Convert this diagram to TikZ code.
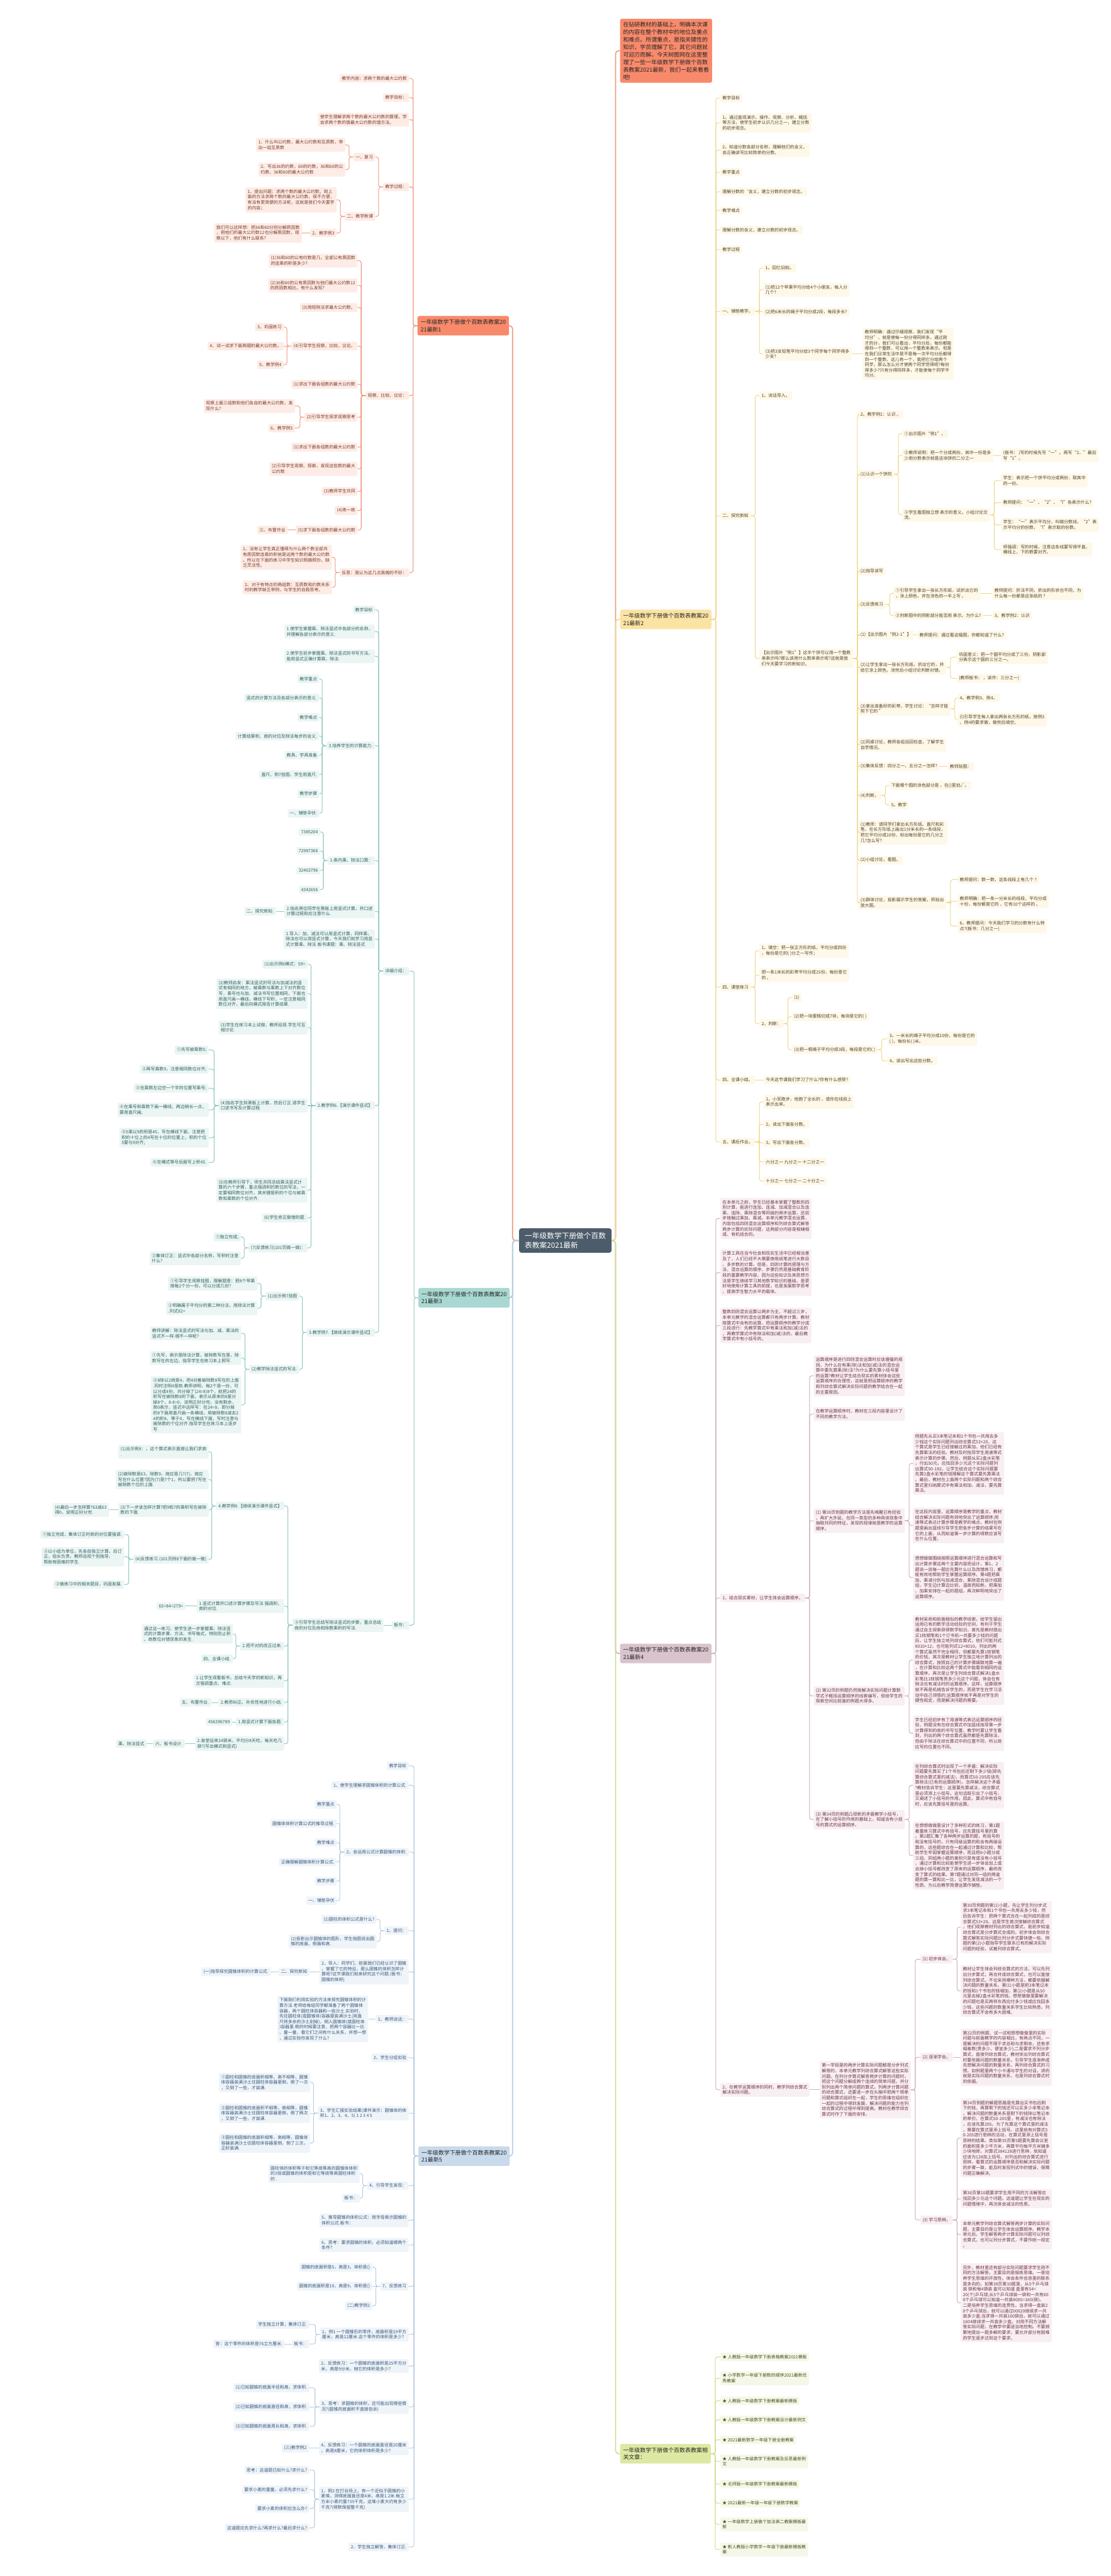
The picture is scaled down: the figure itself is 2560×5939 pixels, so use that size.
\documentclass[tikz,border=0pt]{standalone}
\usepackage{fontspec}
\setmainfont{Noto Sans CJK SC}
\definecolor{oline}{HTML}{EE9B82}
\definecolor{ofill}{HTML}{FDECE6}
\definecolor{otext}{HTML}{7B3A28}
\definecolor{ohd}{HTML}{F88A6B}
\definecolor{tline}{HTML}{93C9C3}
\definecolor{tfill}{HTML}{EBF5F4}
\definecolor{ttext}{HTML}{2E625D}
\definecolor{thd}{HTML}{A9D8D2}
\definecolor{bline}{HTML}{B9CDE0}
\definecolor{bfill}{HTML}{EFF4F9}
\definecolor{btext}{HTML}{35577A}
\definecolor{bhd}{HTML}{C8DAEC}
\definecolor{yline}{HTML}{EFD88D}
\definecolor{yfill}{HTML}{FEF8E9}
\definecolor{ytext}{HTML}{4F4326}
\definecolor{yhd}{HTML}{FBE3A3}
\definecolor{pline}{HTML}{D2AFBC}
\definecolor{pfill}{HTML}{F8EFF2}
\definecolor{ptext}{HTML}{6D3548}
\definecolor{phd}{HTML}{D9C4CD}
\definecolor{gline}{HTML}{CFE090}
\definecolor{gfill}{HTML}{F5F8E8}
\definecolor{gtext}{HTML}{44501F}
\definecolor{ghd}{HTML}{DDE8A2}
\definecolor{hubfill}{HTML}{4C5C6A}

\begin{document}
\begin{tikzpicture}[x=1pt,y=-1pt,
  leaf/.style={rounded corners=3pt,inner xsep=5pt,inner ysep=5pt,align=left,font=\fontsize{10}{12.5}\selectfont},
  oleaf/.style={leaf,fill=ofill,text=otext},
  tleaf/.style={leaf,fill=tfill,text=ttext},
  bleaf/.style={leaf,fill=bfill,text=btext},
  yleaf/.style={leaf,fill=yfill,text=ytext},
  pleaf/.style={leaf,fill=pfill,text=ptext},
  gleaf/.style={leaf,fill=gfill,text=gtext},
  head/.style={rounded corners=4pt,inner xsep=7pt,inner ysep=8pt,align=left,text=black!85,font=\fontsize{13}{17}\selectfont},
  hub/.style={rounded corners=5pt,fill=hubfill,text=white,inner xsep=13pt,inner ysep=9pt,align=left,font=\fontsize{17}{22}\selectfont},
  lside/.style={anchor=east},
  rside/.style={anchor=west},
  olink/.style={draw=oline,line width=1.5pt,rounded corners=5pt},
  tlink/.style={draw=tline,line width=1.5pt,rounded corners=5pt},
  blink/.style={draw=bline,line width=1.5pt,rounded corners=5pt},
  ylink/.style={draw=yline,line width=1.5pt,rounded corners=5pt},
  plink/.style={draw=pline,line width=1.5pt,rounded corners=5pt},
  glink/.style={draw=gline,line width=1.5pt,rounded corners=5pt},
  trunk/.style={line width=2.4pt,rounded corners=7pt}]
\fill[white] (0,0) rectangle (2560,5939);
\useasboundingbox (0,0) rectangle (2560,5939);

% hub
\node[hub] (C) at (1303,2860) {一年级数学下册做个百数\\表教案2021最新};

% ---------- left 1
\node[head,fill=ohd,lside] (oT) at (1173,751) {一年级数学下册做个百数表教案20\\21最新1};
\node[oleaf,lside] (o1) at (943,181) {教学内容：求两个数的最大公约数};
\node[oleaf,lside] (o2) at (943,225) {教学目标：};
\node[oleaf,lside] (o3) at (943,276) {使学生理解求两个数的最大公约数的算理，学\\会求两个数的饿最大公约数的饿方法。};
\node[oleaf,lside] (o4) at (943,431) {教学过程：};
\node[oleaf,lside] (o5) at (943,912) {观察、比较、议论：};
\node[oleaf,lside] (o6) at (943,1320) {反思：我认为这几点我做的不好：};
\node[oleaf,lside] (o4a) at (865,362) {一、复习};
\node[oleaf,lside] (o4b) at (865,499) {二、教学新课};
\node[oleaf,lside] (o4a1) at (796,334) {1、什么叫公约数，最大公约数和互质数，举\\出一组互质数};
\node[oleaf,lside] (o4a2) at (796,391) {2、写出36的约数，60的约数，36和60的公\\约数，36和60的最大公约数};
\node[oleaf,lside] (o4b1) at (776,461) {1、提出问题：求两个数的最大公约数。用上\\面的方法求两个数的最大公约数，很不方便，\\有没有更简便的方法呢，这就是我们今天要学\\的内容；};
\node[oleaf,lside] (o4b2) at (776,537) {2、教学例3};
\node[oleaf,lside] (o4b2a) at (696,537) {我们可以这样想：把36和60分别分解质因数\\，把他们的最大公约数12也分解质因数，观\\察以下，他们有什么联系?};
\node[oleaf,lside] (o5a) at (824,601) {(1)36和60的公有约数是几，全部公有质因数\\的连乘的积是多少?};
\node[oleaf,lside] (o5b) at (824,658) {(2)36和60的公有质因数与他们最大公约数12\\的质因数相比，有什么发现?};
\node[oleaf,lside] (o5c) at (824,709) {(3)用短除法求最大公约数。};
\node[oleaf,lside] (o5d) at (824,798) {(4)引导学生观察，比较，议论。};
\node[oleaf,lside] (o5e) at (824,886) {(1)求出下面各组数的最大公约数};
\node[oleaf,lside] (o5f) at (824,962) {(2)引导学生探求观察思考};
\node[oleaf,lside] (o5g) at (824,1031) {(1)求出下面各组数的最大公约数};
\node[oleaf,lside] (o5h) at (824,1081) {(2)引导学生观察、探索、发现这些数的最大\\公约数};
\node[oleaf,lside] (o5i) at (824,1133) {(3)教师学生共同};
\node[oleaf,lside] (o5j) at (824,1177) {(4)练一练};
\node[oleaf,lside] (o5k) at (824,1222) {(5)求下面各组数的最大公约数};
\node[oleaf,lside] (o5d1) at (654,754) {3、巩固练习};
\node[oleaf,lside] (o5d2) at (654,798) {4、试一试求下面两题的最大公约数。};
\node[oleaf,lside] (o5d3) at (654,841) {5、教学例4};
\node[oleaf,lside] (o5f1) at (680,936) {观察上面三组数和他们各自的最大公约数，发\\现什么?};
\node[oleaf,lside] (o5f2) at (680,987) {6、教学例5};
\node[oleaf,lside] (o5k1) at (663,1222) {三、布置作业};
\node[oleaf,lside] (o6a) at (765,1285) {1、没有让学生真正懂得为什么两个数全部共\\有质因数连乘的积就是这两个数的最大公约数\\。所以在下面的练习中学生知识照搬照抄。缺\\乏灵活性。};
\node[oleaf,lside] (o6b) at (765,1354) {2、对于有特点的两组数：互质数和约数关系\\时的教学缺乏举例，与学生的自我思考。};

\foreach \n in {o1,o2,o3,o4,o5,o6} \draw[olink] (oT.west) -- ++(-10,0) |- (\n.east);
\foreach \n in {o4a,o4b} \draw[olink] (o4.west) -- ++(-10,0) |- (\n.east);
\foreach \n in {o4a1,o4a2} \draw[olink] (o4a.west) -- ++(-10,0) |- (\n.east);
\foreach \n in {o4b1,o4b2} \draw[olink] (o4b.west) -- ++(-10,0) |- (\n.east);
\draw[olink] (o4b2.west) -- (o4b2a.east);
\foreach \n in {o5a,o5b,o5c,o5d,o5e,o5f,o5g,o5h,o5i,o5j,o5k} \draw[olink] (o5.west) -- ++(-10,0) |- (\n.east);
\foreach \n in {o5d1,o5d3} \draw[olink] (o5d.west) -- ++(-10,0) |- (\n.east);
\draw[olink] (o5d.west) -- (o5d2.east);
\foreach \n in {o5f1,o5f2} \draw[olink] (o5f.west) -- ++(-10,0) |- (\n.east);
\draw[olink] (o5k.west) -- (o5k1.east);
\foreach \n in {o6a,o6b} \draw[olink] (o6.west) -- ++(-10,0) |- (\n.east);

% ---------- left 3
\node[head,fill=thd,lside] (tT) at (1175,2992) {一年级数学下册做个百数表教案20\\21最新3};
\node[tleaf,lside] (t1) at (943,2239) {详细介绍：};
\node[tleaf,lside] (t2) at (943,3747) {板书：};
\node[tleaf,lside] (t1a) at (864,1406) {教学目标};
\node[tleaf,lside] (t1b) at (864,1456) {1.使学生掌握乘、除法竖式中各部分的名称，\\并理解各部分表示的意义.};
\node[tleaf,lside] (t1c) at (864,1513) {2.使学生初步掌握乘、除法竖式的书写方法，\\能用竖式正确计算乘、除法.};
\node[tleaf,lside] (t1d) at (864,1719) {3.培养学生的计算能力.};
\node[tleaf,lside] (t1e) at (864,1984) {1.表内乘、除法口算：};
\node[tleaf,lside] (t1f) at (864,2101) {2.指名两位同学在黑板上用竖式计算，并口述\\计算过程和应注意什么.};
\node[tleaf,lside] (t1g) at (864,2165) {1.导入：加、减法可以用竖式计算，同样乘、\\除法也可以用竖式计算，今天我们就学习用竖\\式计算乘、除法.板书课题：乘、除法竖式};
\node[tleaf,lside] (t1h) at (864,2549) {2.教学例6.【演示课件竖式】};
\node[tleaf,lside] (t1i) at (864,3072) {3.教学例7.【继续演示课件竖式】};
\node[tleaf,lside] (t1d1) at (736,1565) {教学重点};
\node[tleaf,lside] (t1d2) at (736,1609) {竖式的计算方法及各部分表示的意义.};
\node[tleaf,lside] (t1d3) at (736,1654) {教学难点};
\node[tleaf,lside] (t1d4) at (736,1697) {计算结果积、商的对位及除法每步的含义.};
\node[tleaf,lside] (t1d5) at (736,1741) {教具、学具准备};
\node[tleaf,lside] (t1d6) at (736,1786) {直尺、例7挂图、学生用直尺.};
\node[tleaf,lside] (t1d7) at (736,1830) {教学步骤};
\node[tleaf,lside] (t1d8) at (736,1875) {一、铺垫孕伏.};
\node[tleaf,lside] (t1e1) at (738,1918) {7385204};
\node[tleaf,lside] (t1e2) at (738,1962) {72987366};
\node[tleaf,lside] (t1e3) at (738,2007) {32463796};
\node[tleaf,lside] (t1e4) at (738,2051) {4342656};
\node[tleaf,lside] (t1f1) at (636,2101) {二、探究新知.};
\node[tleaf,lside] (t1h1) at (709,2223) {(1)出示例6横式：59=};
\node[tleaf,lside] (t1h2) at (709,2291) {(2)教师启发：乘法竖式的写法与加减法的竖\\式有相同的地方，被乘数与乘数上下对齐数位\\写，乘号也与加、减法书写位置相同，下面也\\用直尺画一横线，横线下写积，一定注意相同\\数位对齐，最后向横式报告计算结果.};
\node[tleaf,lside] (t1h3) at (709,2369) {(3)学生在练习本上试做，教师巡视.学生可互\\相讨论.};
\node[tleaf,lside] (t1h4) at (709,2549) {(4)指名学生到黑板上计算，然后订正.请学生\\口述书写及计算过程.};
\node[tleaf,lside] (t1h5) at (709,2744) {(5)在教师引导下，师生共同总结乘法竖式计\\算的六个步骤，重点强调积的数位的写法，一\\定要相同数位对齐，其关键是积的个位与被乘\\数和乘数的个位对齐.};
\node[tleaf,lside] (t1h6) at (709,2808) {(6)学生修正做错的题.};
\node[tleaf,lside] (t1h7) at (709,2877) {(7)反馈练习(101页做一做)：};
\node[tleaf,lside] (t1h4a) at (481,2421) {①先写被乘数5;};
\node[tleaf,lside] (t1h4b) at (481,2465) {②再写乘数9，注意相同数位对齐;};
\node[tleaf,lside] (t1h4c) at (481,2509) {③在乘数左边空一个字的位置写乘号;};
\node[tleaf,lside] (t1h4d) at (481,2559) {④在乘号和乘数下画一横线，两边稍长一点，\\要用直尺画;};
\node[tleaf,lside] (t1h4e) at (481,2623) {⑤5乘以9的积是45，写在横线下面，注意把\\积的十位上的4写在十位的位置上，积的个位\\5要与9对齐;};
\node[tleaf,lside] (t1h4f) at (481,2680) {⑥在横式等号后面写上积45.};
\node[tleaf,lside] (t1h7a) at (555,2852) {①独立完成;};
\node[tleaf,lside] (t1h7b) at (555,2901) {②集体订正：竖式中各部分名称，写积时注意\\什么?};
\node[tleaf,lside] (t1i1) at (690,2988) {(1)出示例7挂图};
\node[tleaf,lside] (t1i2) at (690,3157) {(2)教学除法竖式的写法.};
\node[tleaf,lside] (t1i1a) at (593,2959) {①引导学生观察挂图，理解题意：把8个苹果\\按每2个分一份，可以分成几份?};
\node[tleaf,lside] (t1i1b) at (593,3016) {②明确属于平均分的第二种分法，用除法计算\\.列式82=};
\node[tleaf,lside] (t1i2a) at (556,3074) {教师讲解：除法竖式的写法与加、减、乘法的\\竖式不一样.哪不一样呢?};
\node[tleaf,lside] (t1i2b) at (556,3131) {①先写，表示是除法计算，被除数写在里，除\\数写在的左边，指导学生在练习本上照写.};
\node[tleaf,lside] (t1i2c) at (556,3239) {②8除以2商是4，把4对着被除数8写在的上面\\.同时注明4是商.教师讲明，每2个是一份，可\\以分成4份，共分掉了(24=8)8个，就把24的\\积写在被除数8的下面，表示从原来的8里分\\掉8个，8-8=0，说明正好分完，没有剩余，\\用0表示，竖式中这样写：在24=8，即分掉\\的8下面用直尺画一条横线，用被除数8减去2\\4的积8，等于0，写在横线下面，写时注意与\\被除数的个位对齐.指导学生在练习本上逐步\\写.};
\node[tleaf,lside] (t2a) at (884,3747) {③引导学生总结写除法竖式的步骤，重点总结\\商的对位及商和除数乘积的写法.};
\node[tleaf,lside] (t2a1) at (655,3472) {4.教学例8.【继续演示课件竖式】};
\node[tleaf,lside] (t2a2) at (655,3703) {1.竖式计算并口述计算步骤及写法.强调积、\\商的对位.};
\node[tleaf,lside] (t2a3) at (655,3795) {2.把不对的改正过来.};
\node[tleaf,lside] (t2a4) at (655,3875) {1.让学生观看板书，总结今天学的新知识，再\\次强调重点、难点.};
\node[tleaf,lside] (t2a5) at (655,3925) {2.教师纠正、补充性地进行小结.};
\node[tleaf,lside] (t2a6) at (655,3970) {1.用竖式计算下面各题.};
\node[tleaf,lside] (t2a7) at (655,4020) {2.食堂运来24袋米，平均分8天吃，每天吃几\\袋?(写出横式和竖式)};
\node[tleaf,lside] (t2a1a) at (481,3347) {(1)出示例8：，这个算式表示直接让我们求商\\.};
\node[tleaf,lside] (t2a1b) at (481,3411) {(2)被除数是63，除数9，商应是几?(7)，商应\\写在什么位置?因为(7)是7个1，所以要把7写在\\被除数个位的上面.};
\node[tleaf,lside] (t2a1c) at (481,3481) {(3)下一步该怎样计算?把9和7的乘积写在被除\\数的下面.};
\node[tleaf,lside] (t2a1d) at (481,3595) {(4)反馈练习.(101页例8下面的做一做)};
\node[tleaf,lside] (t2a1c1) at (251,3481) {(4)最后一步怎样算?63减63\\得0，说明正好分完.};
\node[tleaf,lside] (t2a1d1) at (286,3538) {①独立完成，集体订正时商的对位要强调.};
\node[tleaf,lside] (t2a1d2) at (286,3589) {②以小组为单位，先各自独立计算，后订\\正，组长负责，教师巡视个别指导，\\帮助有困难的学生.};
\node[tleaf,lside] (t2a1d3) at (286,3653) {③做练习中的相关题目，巩固发展.};
\node[tleaf,lside] (t2a2a) at (427,3703) {65=84=279=};
\node[tleaf,lside] (t2a3a) at (537,3767) {通过这一练习，使学生进一步掌握乘、除法竖\\式的计算步骤、方法、书写格式、特别防止积\\、商数位对错现象的发生.};
\node[tleaf,lside] (t2a3b) at (537,3824) {四、全课小结.};
\node[tleaf,lside] (t2a5a) at (487,3925) {五、布置作业.};
\node[tleaf,lside] (t2a6a) at (535,3970) {456396789};
\node[tleaf,lside] (t2a7a) at (426,4020) {六、板书设计.};
\node[tleaf,lside] (t2a7b) at (338,4020) {乘、除法竖式};

\foreach \n in {t1,t2} \draw[tlink] (tT.west) -- ++(-10,0) |- (\n.east);
\foreach \n in {t1a,t1b,t1c,t1d,t1e,t1f,t1g,t1h,t1i} \draw[tlink] (t1.west) -- ++(-10,0) |- (\n.east);
\foreach \n in {t1d1,t1d2,t1d3,t1d4,t1d5,t1d6,t1d7,t1d8} \draw[tlink] (t1d.west) -- ++(-10,0) |- (\n.east);
\foreach \n in {t1e1,t1e2,t1e3,t1e4} \draw[tlink] (t1e.west) -- ++(-10,0) |- (\n.east);
\draw[tlink] (t1f.west) -- (t1f1.east);
\foreach \n in {t1h1,t1h2,t1h3,t1h5,t1h6,t1h7} \draw[tlink] (t1h.west) -- ++(-10,0) |- (\n.east);
\draw[tlink] (t1h.west) -- (t1h4.east);
\foreach \n in {t1h4a,t1h4b,t1h4c,t1h4d,t1h4e,t1h4f} \draw[tlink] (t1h4.west) -- ++(-10,0) |- (\n.east);
\foreach \n in {t1h7a,t1h7b} \draw[tlink] (t1h7.west) -- ++(-10,0) |- (\n.east);
\foreach \n in {t1i1,t1i2} \draw[tlink] (t1i.west) -- ++(-10,0) |- (\n.east);
\foreach \n in {t1i1a,t1i1b} \draw[tlink] (t1i1.west) -- ++(-10,0) |- (\n.east);
\foreach \n in {t1i2a,t1i2b,t1i2c} \draw[tlink] (t1i2.west) -- ++(-10,0) |- (\n.east);
\draw[tlink] (t2.west) -- (t2a.east);
\foreach \n in {t2a1,t2a2,t2a3,t2a4,t2a5,t2a6,t2a7} \draw[tlink] (t2a.west) -- ++(-10,0) |- (\n.east);
\foreach \n in {t2a1a,t2a1b,t2a1c,t2a1d} \draw[tlink] (t2a1.west) -- ++(-10,0) |- (\n.east);
\draw[tlink] (t2a1c.west) -- (t2a1c1.east);
\foreach \n in {t2a1d1,t2a1d2,t2a1d3} \draw[tlink] (t2a1d.west) -- ++(-10,0) |- (\n.east);
\draw[tlink] (t2a2.west) -- (t2a2a.east);
\foreach \n in {t2a3a,t2a3b} \draw[tlink] (t2a3.west) -- ++(-10,0) |- (\n.east);
\draw[tlink] (t2a5.west) -- (t2a5a.east);
\draw[tlink] (t2a6.west) -- (t2a6a.east);
\draw[tlink] (t2a7.west) -- (t2a7a.east);
\draw[tlink] (t2a7a.west) -- (t2a7b.east);

% ---------- left 5
\node[head,fill=bhd,lside] (bT) at (1175,4971) {一年级数学下册做个百数表教案20\\21最新5};
\node[bleaf,lside] (b1) at (942,4071) {教学目标};
\node[bleaf,lside] (b2) at (942,4116) {1、使学生理解求圆锥体积的计算公式.};
\node[bleaf,lside] (b3) at (942,4270) {2、会运用公式计算圆锥的体积.};
\node[bleaf,lside] (b4) at (942,4451) {1、提问：};
\node[bleaf,lside] (b5) at (942,4546) {2、导入：同学们，前面我们已经认识了圆锥\\，掌握了它的特征，那么圆锥的体积怎样计\\算呢?这节课我们就来研究这个问题.(板书：\\圆锥的体积)};
\node[bleaf,lside] (b6) at (942,4655) {1、教师谈话：};
\node[bleaf,lside] (b7) at (942,4744) {2、学生分组实验};
\node[bleaf,lside] (b8) at (942,4872) {3、学生汇报实验结果(课件演示：圆锥体的体\\积1、2、3、4、5) 1 2 3 4 5};
\node[bleaf,lside] (b9) at (942,5039) {4、引导学生发现：};
\node[bleaf,lside] (b10) at (942,5119) {5、推导圆锥的体积公式：用字母表示圆锥的\\体积公式.板书：};
\node[bleaf,lside] (b11) at (942,5176) {6、思考：要求圆锥的体积，必须知道哪两个\\条件?};
\node[bleaf,lside] (b12) at (942,5271) {7、反馈练习};
\node[bleaf,lside] (b13) at (942,5382) {1、例1 一个圆锥形的零件，底面积是19平方\\厘米，高是12厘米.这个零件的体积是多少?};
\node[bleaf,lside] (b14) at (942,5455) {2、反馈练习：一个圆锥的底面积是25平方分\\米，高是9分米，她它的体积是多少?};
\node[bleaf,lside] (b15) at (942,5549) {3、思考：求圆锥的体积，还可能出现哪些情\\况?(圆锥的底面积不直接告诉)};
\node[bleaf,lside] (b16) at (942,5644) {4、反馈练习：一个圆锥的底面直径是20厘米\\，高是8厘米，它的体积体积是多少?};
\node[bleaf,lside] (b17) at (942,5762) {1、例2 在打谷场上，有一个近似于圆锥的小\\麦堆，测得底面直径是4米，高是1.2米.每立\\方米小麦约重735千克，这堆小麦大约有多少\\千克?(得数保留整千克)};
\node[bleaf,lside] (b18) at (942,5872) {2、学生独立解答，集体订正.};
\node[bleaf,lside] (b3a) at (776,4160) {教学重点};
\node[bleaf,lside] (b3b) at (776,4204) {圆锥体体积计算公式的推导过程.};
\node[bleaf,lside] (b3c) at (776,4248) {教学难点};
\node[bleaf,lside] (b3d) at (776,4293) {正确理解圆锥体积计算公式.};
\node[bleaf,lside] (b3e) at (776,4337) {教学步骤};
\node[bleaf,lside] (b3f) at (776,4382) {一、铺垫孕伏};
\node[bleaf,lside] (b4a) at (868,4425) {(1)圆柱的体积公式是什么?};
\node[bleaf,lside] (b4b) at (868,4476) {(2)投影出示圆锥体的图形，学生指图说出圆\\锥的底面、侧面和高.};
\node[bleaf,lside] (b5a) at (713,4546) {二、探究新知};
\node[bleaf,lside] (b5b) at (624,4546) {(一)指导探究圆锥体积的计算公式.};
\node[bleaf,lside] (b6a) at (849,4655) {下面我们利用实验的方法来探究圆锥体积的计\\算方法.老师给每组同学都准备了两个圆锥体\\容器，两个圆柱体容器和一些沙土.实验时，\\先往圆柱体(或圆锥体)容器里装满沙土(用直\\尺将多余的沙土刮掉)，倒入圆锥体(或圆柱体\\)容器里.倒的时候要注意，把两个容器比一比\\、量一量，看它们之间有什么关系，并想一想\\，通过实验你发现了什么?};
\node[bleaf,lside] (b8a) at (715,4801) {①圆柱和圆锥的底面积相等，高不相等，圆锥\\体容器装满沙土往圆柱体容器里倒，倒了一次\\，又倒了一些，才装满.};
\node[bleaf,lside] (b8b) at (715,4872) {②圆柱和圆锥的底面积不相等，高相等，圆锥\\体容器装满沙土往圆柱体容器里倒，倒了两次\\，又倒了一些，才装满.};
\node[bleaf,lside] (b8c) at (715,4941) {③圆柱和圆锥的底面积相等，高相等，圆锥体\\容器装满沙土往圆柱体容器里倒，倒了三次，\\正好装满.};
\node[bleaf,lside] (b9a) at (829,5011) {圆柱体的体积等于和它等底等高的圆锥体体积\\的3倍或圆锥的体积是和它等底等高圆柱体积\\的 .};
\node[bleaf,lside] (b9b) at (829,5068) {板书：};
\node[bleaf,lside] (b12a) at (858,5227) {圆锥的底面积是5，高是3，体积是()};
\node[bleaf,lside] (b12b) at (858,5271) {圆锥的底面积是10，高是9，体积是()};
\node[bleaf,lside] (b12c) at (858,5316) {(二)教学例1};
\node[bleaf,lside] (b13a) at (713,5359) {学生独立计算，集体订正.};
\node[bleaf,lside] (b13b) at (713,5404) {板书：};
\node[bleaf,lside] (b13c) at (656,5404) {答：这个零件的体积是76立方厘米.};
\node[bleaf,lside] (b15a) at (713,5505) {(1)已知圆锥的底面半径和高，求体积.};
\node[bleaf,lside] (b15b) at (713,5549) {(2)已知圆锥的底面直径和高，求体积.};
\node[bleaf,lside] (b15c) at (713,5594) {(3)已知圆锥的底面周长和高，求体积.};
\node[bleaf,lside] (b16a) at (712,5644) {(三)教学例2};
\node[bleaf,lside] (b17a) at (713,5695) {思考：这道题已知什么?求什么?};
\node[bleaf,lside] (b17b) at (713,5740) {要求小麦的重量，必须先求什么?};
\node[bleaf,lside] (b17c) at (713,5783) {要求小麦的体积应怎么办?};
\node[bleaf,lside] (b17d) at (713,5828) {这道题应先求什么?再求什么?最后求什么?};

\foreach \n in {b1,b2,b3,b4,b5,b6,b7,b8,b9,b10,b11,b12,b13,b14,b15,b16,b17,b18} \draw[blink] (bT.west) -- ++(-10,0) |- (\n.east);
\foreach \n in {b3a,b3b,b3c,b3d,b3e,b3f} \draw[blink] (b3.west) -- ++(-10,0) |- (\n.east);
\foreach \n in {b4a,b4b} \draw[blink] (b4.west) -- ++(-10,0) |- (\n.east);
\draw[blink] (b5.west) -- (b5a.east);
\draw[blink] (b5a.west) -- (b5b.east);
\draw[blink] (b6.west) -- (b6a.east);
\foreach \n in {b8a,b8c} \draw[blink] (b8.west) -- ++(-10,0) |- (\n.east);
\draw[blink] (b8.west) -- (b8b.east);
\foreach \n in {b9a,b9b} \draw[blink] (b9.west) -- ++(-10,0) |- (\n.east);
\foreach \n in {b12a,b12c} \draw[blink] (b12.west) -- ++(-10,0) |- (\n.east);
\draw[blink] (b12.west) -- (b12b.east);
\foreach \n in {b13a,b13b} \draw[blink] (b13.west) -- ++(-10,0) |- (\n.east);
\draw[blink] (b13b.west) -- (b13c.east);
\foreach \n in {b15a,b15c} \draw[blink] (b15.west) -- ++(-10,0) |- (\n.east);
\draw[blink] (b15.west) -- (b15b.east);
\draw[blink] (b16.west) -- (b16a.east);
\foreach \n in {b17a,b17b,b17c,b17d} \draw[blink] (b17.west) -- ++(-10,0) |- (\n.east);

% ---------- right top
\node[head,fill=ohd,rside,inner ysep=7pt,font=\fontsize{13}{17.4}\selectfont] (top) at (1429,117) {在钻研教材的基础上，明确本次课\\的内容在整个教材中的地位及重点\\和难点。所谓重点，是指关键性的\\知识，学员理解了它，其它问题就\\可迎刃而解。今天树图网在这里整\\理了一些一年级数学下册做个百数\\表教案2021最新，我们一起来看看\\吧!};

% ---------- right 2
\node[head,fill=yhd,rside] (yT) at (1429,1428) {一年级数学下册做个百数表教案20\\21最新2};
\node[yleaf,rside] (y1) at (1660,226) {教学目标};
\node[yleaf,rside] (y2) at (1660,283) {1。通过直观演示、操作、观察、分析、概括\\等方法，使学生初步认识几分之一，建立分数\\的初步观念。};
\node[yleaf,rside] (y3) at (1660,346) {2。知道分数各部分名称，理解他们的含义，\\会正确读写比较简单的分数。};
\node[yleaf,rside] (y4) at (1660,397) {教学重点};
\node[yleaf,rside] (y5) at (1660,442) {理解分数的`含义，建立分数的初步观念。};
\node[yleaf,rside] (y6) at (1660,485) {教学难点};
\node[yleaf,rside] (y7) at (1660,530) {理解分数的含义，建立分数的初步观念。};
\node[yleaf,rside] (y8) at (1660,575) {教学过程};
\node[yleaf,rside] (y9) at (1660,718) {一、铺垫教学。};
\node[yleaf,rside] (y10) at (1660,1189) {二、探究新知};
\node[yleaf,rside] (y11) at (1660,2276) {四、课堂练习};
\node[yleaf,rside] (y12) at (1660,2490) {四、全课小结。};
\node[yleaf,rside] (y13) at (1660,2633) {五、课后作业。};
\node[yleaf,rside] (y9a) at (1759,618) {1。回忆旧知。};
\node[yleaf,rside] (y9b) at (1759,668) {(1)把12个苹果平均分给4个小朋友，每人分\\几个?};
\node[yleaf,rside] (y9c) at (1759,719) {(2)把6米长的绳子平均分成2段，每段多长?};
\node[yleaf,rside] (y9d) at (1759,816) {(3)把3支铅笔平均分给3个同学每个同学得多\\少支?};
\node[yleaf,rside] (y9d1) at (1988,816) {教师明确：通过仔细观察，我们发现“平\\均分”，就是使每一份分得同样多。通过刚\\才的分，我们可以看出，平均分后，每份都能\\得到一个整数，可以用一个整数来表示。但是\\在我们日常生活中是不是每一次平均分后都得\\到一个整数，这儿有一个，我把它分给两个\\同学，那么怎么分才使两个同学觉得呢?每份\\得多少?只有分得同样多，才能使每个同学平\\均分。};
\node[yleaf,rside] (y10a) at (1750,912) {1。谈话导入。};
\node[yleaf,rside] (y10b) at (1750,1518) {【出示图片“例1”】这半个饼可以用一个整数\\来表示吗?那么该用什么数来表示呢?这就是我\\们今天要学习的新知识。};
\node[yleaf,rside] (y10b1) at (1978,956) {2。教学例1：认识 。};
\node[yleaf,rside] (y10b2) at (1978,1094) {(1)认识一个饼的};
\node[yleaf,rside] (y10b3) at (1978,1317) {(2)指导读写};
\node[yleaf,rside] (y10b4) at (1978,1394) {(3)反馈练习};
\node[yleaf,rside] (y10b5) at (1978,1464) {(1)【出示图片“例2-1”】};
\node[yleaf,rside] (y10b6) at (1978,1539) {(2)让学生拿出一张长方形纸，折出它的，并\\给它涂上颜色，涂完后小组讨论判断对错。};
\node[yleaf,rside] (y10b7) at (1978,1634) {(3)拿出准备好的彩带，学生讨论：“怎样才能\\剪下它的 ”};
\node[yleaf,rside] (y10b8) at (1978,1717) {(2)同桌讨论，教师各组巡回检查，了解学生\\自学情况。};
\node[yleaf,rside] (y10b9) at (1978,1767) {(3)集体反馈：四分之一、五分之一怎样?};
\node[yleaf,rside] (y10b10) at (1978,1834) {(4)判断。};
\node[yleaf,rside] (y10b11) at (1978,1919) {(1)教师：请同学们拿出长方形纸、直尺和彩\\笔，在长方形纸上画出1分米长的一条线段，\\把它平均分成10份，标出每份是它的几分之\\几?怎么写?};
\node[yleaf,rside] (y10b12) at (1978,1983) {(2)小组讨论，看图。};
\node[yleaf,rside] (y10b13) at (1978,2081) {(3)群体讨论，投影展示学生的答案，师贴出\\放大图。};
\node[yleaf,rside] (y10b2a) at (2079,1000) {①出示图片“例1”。};
\node[yleaf,rside] (y10b2b) at (2079,1050) {②教师说明：把一个分成两份，其中一份是多\\少用分数表示就是这块饼的二分之一};
\node[yleaf,rside] (y10b2c) at (2079,1187) {③学生看图独立想 表示的意义。小组讨论交\\流。};
\node[yleaf,rside] (y10b2b1) at (2307,1050) {(板书： )写的时候先写“一”。再写“2，”最后\\写“1”。};
\node[yleaf,rside] (y10b2c1) at (2307,1108) {学生：表示把一个饼平均分成两份，取其中\\的一份。};
\node[yleaf,rside] (y10b2c2) at (2307,1159) {教师提问：“一”、“2”、“l”各表示什么?};
\node[yleaf,rside] (y10b2c3) at (2307,1210) {学生：“一”表示平均分，叫做分数线，“2”表\\示平均分的份数，“l”表示取的份数。};
\node[yleaf,rside] (y10b2c4) at (2307,1267) {师强调：写的时候，注意这条线要写得平直，\\横线上、下的数要对齐。};
\node[yleaf,rside] (y10b4a) at (2059,1368) {①引导学生拿出一张长方形纸，试折出它的\\，涂上颜色，并在涂色的一半上写 。};
\node[yleaf,rside] (y10b4b) at (2059,1419) {②判断图中的阴影部分能否用 表示。为什么?};
\node[yleaf,rside] (y10b4a1) at (2287,1368) {教师提问：折法不同，折出的形状也不同，为\\什么每一份都是这张纸的 ?};
\node[yleaf,rside] (y10b4b1) at (2287,1419) {3。教学例2：认识};
\node[yleaf,rside] (y10b5a) at (2114,1464) {教师提问：通过看这幅图，你都知道了什么?};
\node[yleaf,rside] (y10b6a) at (2205,1515) {巩固意义：把一个圆平均分成了三份，阴影部\\分表示这个圆的三分之一。};
\node[yleaf,rside] (y10b6b) at (2205,1564) {(教师板书： ，读作：三分之一)};
\node[yleaf,rside] (y10b7a) at (2207,1609) {4。教学例3、例4。};
\node[yleaf,rside] (y10b7b) at (2207,1659) {(l)引导学生每人拿出两张长方形的纸，按例3\\、例4的要求做，做完后填空。};
\node[yleaf,rside] (y10b9a) at (2184,1767) {教师贴图：};
\node[yleaf,rside] (y10b10a) at (2049,1811) {下面哪个图的涂色部分是 ，在()里划√。};
\node[yleaf,rside] (y10b10b) at (2049,1856) {5。教学};
\node[yleaf,rside] (y10b13a) at (2207,2028) {教师提问：数一数，这条线段上有几个 ?};
\node[yleaf,rside] (y10b13b) at (2207,2078) {教师明确：把一条一分米长的线段，平均分成\\十份，每份都是它的 ，它有10个这样的 。};
\node[yleaf,rside] (y10b13c) at (2207,2135) {6。教师提问：今天我们学习的分数有什么特\\点?(板书：几分之一)};
\node[yleaf,rside] (y11a) at (1750,2192) {1。填空：把一张正方形的纸，平均分成四份\\，每份是它的( )分之一写作；};
\node[yleaf,rside] (y11b) at (1750,2248) {把一条1米长的彩带平均分成15份，每份是它\\的 。};
\node[yleaf,rside] (y11c) at (1750,2360) {2。判断：};
\node[yleaf,rside] (y11c1) at (1825,2300) {(1)};
\node[yleaf,rside] (y11c2) at (1825,2344) {(2)把一块蛋糕切成7块，每块是它的( )};
\node[yleaf,rside] (y11c3) at (1825,2420) {(3)把一根绳子平均分成3段，每段是它的( )};
\node[yleaf,rside] (y11c3a) at (2045,2395) {3。一米长的绳子平均分成10份，每份是它的\\( )，每份长( )米。};
\node[yleaf,rside] (y11c3b) at (2045,2446) {4。读出写出这些分数。};
\node[yleaf,rside] (y12a) at (1760,2490) {今天这节课我们学习了什么?你有什么感受?};
\node[yleaf,rside] (y13a) at (1760,2540) {1。小军跑步，他跑了全长的 ，请你在线段上\\表示出来。};
\node[yleaf,rside] (y13b) at (1760,2592) {2。读出下面各分数。};
\node[yleaf,rside] (y13c) at (1760,2635) {3。写出下面各分数。};
\node[yleaf,rside] (y13d) at (1760,2679) {六分之一 九分之一 十二分之一};
\node[yleaf,rside] (y13e) at (1760,2723) {十分之一 七分之一 二十分之一};

\foreach \n in {y1,y2,y3,y4,y5,y6,y7,y8,y9,y10,y11,y12,y13} \draw[ylink] (yT.east) -- ++(10,0) |- (\n.west);
\foreach \n in {y9a,y9b,y9c,y9d} \draw[ylink] (y9.east) -- ++(10,0) |- (\n.west);
\draw[ylink] (y9d.east) -- (y9d1.west);
\foreach \n in {y10a,y10b} \draw[ylink] (y10.east) -- ++(10,0) |- (\n.west);
\foreach \n in {y10b1,y10b2,y10b3,y10b4,y10b5,y10b6,y10b7,y10b8,y10b9,y10b10,y10b11,y10b12,y10b13} \draw[ylink] (y10b.east) -- ++(10,0) |- (\n.west);
\foreach \n in {y10b2a,y10b2b,y10b2c} \draw[ylink] (y10b2.east) -- ++(10,0) |- (\n.west);
\draw[ylink] (y10b2b.east) -- (y10b2b1.west);
\foreach \n in {y10b2c1,y10b2c2,y10b2c3,y10b2c4} \draw[ylink] (y10b2c.east) -- ++(10,0) |- (\n.west);
\foreach \n in {y10b4a,y10b4b} \draw[ylink] (y10b4.east) -- ++(10,0) |- (\n.west);
\draw[ylink] (y10b4a.east) -- (y10b4a1.west);
\draw[ylink] (y10b4b.east) -- (y10b4b1.west);
\draw[ylink] (y10b5.east) -- (y10b5a.west);
\foreach \n in {y10b6a,y10b6b} \draw[ylink] (y10b6.east) -- ++(10,0) |- (\n.west);
\foreach \n in {y10b7a,y10b7b} \draw[ylink] (y10b7.east) -- ++(10,0) |- (\n.west);
\draw[ylink] (y10b9.east) -- (y10b9a.west);
\foreach \n in {y10b10a,y10b10b} \draw[ylink] (y10b10.east) -- ++(10,0) |- (\n.west);
\foreach \n in {y10b13a,y10b13b,y10b13c} \draw[ylink] (y10b13.east) -- ++(10,0) |- (\n.west);
\foreach \n in {y11a,y11b,y11c} \draw[ylink] (y11.east) -- ++(10,0) |- (\n.west);
\foreach \n in {y11c1,y11c2,y11c3} \draw[ylink] (y11c.east) -- ++(10,0) |- (\n.west);
\foreach \n in {y11c3a,y11c3b} \draw[ylink] (y11c3.east) -- ++(10,0) |- (\n.west);
\draw[ylink] (y12.east) -- (y12a.west);
\foreach \n in {y13a,y13b,y13c,y13d,y13e} \draw[ylink] (y13.east) -- ++(10,0) |- (\n.west);

% ---------- right 4
\node[head,fill=phd,rside] (pT) at (1429,3812) {一年级数学下册做个百数表教案20\\21最新4};
\node[pleaf,rside] (p1) at (1660,2809) {在本单元之前，学生已经基本掌握了整数的四\\则计算，能进行连加、连减、加减混合以及连\\乘、连除、乘除混合等同级的两步运算，还初\\步接触过乘加、乘减。本单元教学混合运算，\\内容包括四则混合运算顺序和列综合算式解答\\两步计算的实际问题，这两部分内容是相辅相\\成、有机结合的。};
\node[pleaf,rside] (p2) at (1660,2934) {计算工具在当今社会和现实生活中已经相当普\\及了，人们已经不大需要使用纸笔进行大数目\\、多步数的计算。但是，四则计算的原理与方\\法、混合运算的顺序、步骤仍然是基础教育阶\\段的重要教学内容。因为这些知识及其思想方\\法是学生继续学习其他数学知识的基础，是更\\好地使用计算工具的前提，也是发展数学思考\\、提高学生智力水平的载体。};
\node[pleaf,rside] (p3) at (1660,3056) {整数四则混合运算以两步为主，不超过三步，\\本单元教学的混合运算都只有两步计算。教材\\按算式中含有的运算，把运算顺序的教学分成\\三段进行：先教学算式中有乘法和加(减)法的\\，再教学算式中有除法和加(减)法的，最后教\\学算式中有小括号的。};
\node[pleaf,rside] (p4) at (1660,3684) {1、结合现实素材，让学生体会运算顺序。};
\node[pleaf,rside] (p5) at (1660,4818) {2、在教学运算顺序的同时，教学列综合算式\\解决实际问题。};
\node[pleaf,rside] (p4a) at (1875,3172) {运算顺序是进行四则混合运算时应该遵循的规\\则。为什么在有乘(除)法和加(减)法的混合运\\算中要先算乘(除)法?为什么要先算小括号里\\的运算?教材让学生结合现实的素材体会这些\\运算顺序的合理性，这就是把运算顺序的教学\\和列综合算式解决实际问题的教学结合在一起\\的主要原因。};
\node[pleaf,rside] (p4b) at (1875,3260) {在教学运算顺序时，教材在三段内容里设计了\\不同的教学方法。};
\node[pleaf,rside] (p4c) at (1875,3506) {(1) 第30页例题的教学方法是先唤醒已有经验\\，再扩大外延，在同一类型的多种具体现象中\\抽取共同的特征，发现的规律就是教学的运算\\顺序。};
\node[pleaf,rside] (p4d) at (1875,3910) {(2) 第32页的例题仍然按解决实际问题计算数\\学式子概括运算顺序的线索编写，但给学生的\\探索空间比前面的例题大得多。};
\node[pleaf,rside] (p4e) at (1875,4195) {(3) 第34页的例题凸现新的矛盾教学小括号，\\在了解小括号的作用的基础上，知道含有小括\\号的算式的运算顺序。};
\node[pleaf,rside] (p4c1) at (2104,3374) {例题先从买3本笔记本和1个书包一共用去多\\少钱这个实际问题列出综合算式53+20，这\\个算式是学生已经接触过的乘加，他们已经有\\先算乘法的经验。教材及时指导学生用递等式\\表示计算的步骤。然后，例题从买2盒水彩笔\\，付出50元，应找回多少元这个实际问题列\\出算式50-182，让学生结合这个实际问题要\\先算2盒水彩笔的钱理解这个算式要先算乘法\\。最后，教材在上面两个实际问题和两个综合\\算式里归纳算式中有乘法和加、减法，要先算\\乘法。};
\node[pleaf,rside] (p4c2) at (2104,3517) {在这段内容里，运算顺序是教学的重点，教材\\结合解决实际问题有效地突出了运算顺序;用\\递等式表达计算步骤是教学的难点，教材在例\\题里画出蓝线引导学生把各步计算的结果写在\\它的上面，从而知道第一步计算的得数应该写\\在什么位置。};
\node[pleaf,rside] (p4c3) at (2104,3637) {想想做做围绕按照运算顺序进行混合运算和写\\出计算步骤这两个主要内容而设计，第1、2\\题说一说每一题应先算什么以及改错练习，都\\能有效地帮助学生掌握运算顺序。第4题把乘\\加、乘减分别与加减混合、乘除混合设计成题\\组，学生边计算边比较，温故而知新。把乘加\\、加乘安排在一起的题组，再次鲜明地突出了\\运算顺序。};
\node[pleaf,rside] (p4d1) at (2104,3827) {教材采用和前面相似的教学线索，给学生留出\\运用已有的数学活动经验的空间，有利于学生\\通过自主探索获得数学知识。首先是教材提出\\买1枝钢笔和1个订书机一共要多少钱的问题\\后，让学生独立地列综合算式，他们可能列式\\8010+12，也可能列式12+8010。列出的两\\个算式虽然不完全相同，但都要先算1枝钢笔\\的价钱。其次是教材让学生独立地计算列出的\\综合算式，按照自己的计算步骤细致地算一遍\\，在计算和比较这两个算式中能看到相同的运\\算顺序。再次是让学生列综合算式解决1盒水\\彩笔比1枝钢笔贵多少元这个问题，体会在有\\除法也有减法时的运算顺序。这样，运算顺序\\就不再是机械告诉学生的，而是学生在学习活\\动中自己领悟的;运算顺序就不再是对学生的\\硬性规定，而是解决问题的需要。};
\node[pleaf,rside] (p4d2) at (2104,3996) {学生已经初步有了用递等式表达运算顺序的经\\验，例题没有在综合算式中加蓝线指导第一步\\计算得到的商的书写位置。教学时要让学生看\\到，列出的两个综合算式虽然都是先算除法，\\但由于除法在综合算式中的位置不同，所以商\\应写的位置也不同。};
\node[pleaf,rside] (p4e1) at (2104,4116) {在列综合算式时出现了一个矛盾：解决实际\\问题要先算买了1个书包后还剩下多少钱(即先\\算综合算式里的减法)，而算式50-205应该先\\算除法(已有的运算顺序)。怎样解决这个矛盾\\?教材告诉学生：这里要先算减法，综合算式\\里必须添上小括号。这句话既引出了小括号，\\又阐述了小括号的作用。因此，算式中有括号\\时，应该先算括号里的运算。};
\node[pleaf,rside] (p4e2) at (2104,4278) {在想想做做里设计了多种形式的练习，第1题\\着重练习算式中有括号，应先算括号里的算\\。第2题汇集了各种两步运算的题，有括号的\\和没有括号的，只有同级运算的和含有两级运\\算的，这些题综合在一起通过计算和比较，帮\\助学生牢固掌握运算顺序。而且把6小题分成\\三组，同组两小题的差别只是有或没有小括号\\，通过计算和比较能使学生进一步体会加上或\\去掉小括号都改变了原来的运算顺序，最终改\\变了算式的结果。第7题通过对同一组的两道\\题的算一算和比一比，让学生发现减法的一个\\性质，为以后教学简便运算作铺垫。};
\node[pleaf,rside] (p5a) at (1889,4818) {第一学段里的两步计算实际问题都是分步列式\\解答的，本单元教学列综合算式解答这些实际\\问题。在列分步算式解答两步计算的问题时，\\把这个问题分解成两个连续的简单问题，并分\\别列出两个简单问题的算式。列两步计算问题\\的综合算式，还要进一步在头脑中把两个简单\\问题和算式组织在一起，学生的思维在组织在\\一起的过程中得到发展，解决问题的能力在列\\综合算式的过程中得到提高。教材在教学综合\\算式时作了下面的安排。};
\node[pleaf,rside] (p5a1) at (2121,4517) {(1) 初步体会。};
\node[pleaf,rside] (p5a2) at (2121,4743) {(2) 逐渐学会。};
\node[pleaf,rside] (p5a3) at (2121,5118) {(3) 学习思辨。};
\node[pleaf,rside] (p5a1a) at (2214,4443) {第30页例题的第(1)小题，先让学生列分步式\\求3本笔记本和1个书包一共用去多少钱，然\\后告诉学生：把两个算式合在一起列成的是综\\合算式53+20。这是学生首次接触综合算式\\，他们观察教材列出的综合算式，能初步知道\\综合算式是分步算式合成的。初步体会到综合\\算式解答实际问题比列分步式要快捷一些。例\\题的第(2)小题指导学生联系已有的解决实际\\问题的经验，试着列综合算式。};
\node[pleaf,rside] (p5a1b) at (2214,4590) {教材让学生体会列综合算式的方法，可以先列\\出分步算式，再合并成综合算式，也可以直接\\列综合算式。不论采用哪种方法，都要依据解\\决问题的数量关系。第(1)小题是把3本笔记本\\的钱和1个书包的钱相加，第(2)小题是从50\\元里去掉2盒水彩笔的钱。想想做做里要解决\\的问题也是买两样东西应付多少钱或应找回多\\少钱，这些问题的数量关系学生比较熟悉，列\\综合算式不会有多大困难。};
\node[pleaf,rside] (p5a2a) at (2214,4743) {第32页的例题、试一试和想想做做里的实际\\问题与前面教学的内容相比，有两点不同，一\\是解决的问题不限于求总和与求剩余，还有求\\相差数(贵多少、便宜多少);二是要求不列分步\\算式，直接列综合算式。教材突出列综合算式\\时要依据问题的数量关系，引导学生逐渐养成\\先想解决问题的数量关系，再列综合算式的习\\惯。如例题里两个小卡通与学生的对话，讲的\\就是实际问题的数量关系，也是列综合算式时\\的依据。};
\node[pleaf,rside] (p5a3a) at (2214,4929) {第34页例题的解题思路是先算出买书包后剩\\下的钱，再算剩下的钱还可以买多少本笔记本\\，解决问题的数量关系是剩下的钱除以笔记本\\的单价。在算式50-205里，有减法也有除法\\，应该先算205。为了先算这个算式里的减法\\，需要在算式里添上括号。这里就有对算式5\\0-205进行思辨的活动，在算式里添上括号是\\思辨的结果。类似第35页第5题要先算会议室\\的面积是多少平方米，再算平均每平方米铺多\\少块地砖。对算式384128进行思辨，就知道\\应该为128加上括号。对列出的综合算式进行\\思辨，看算式的运算顺序是否和解决实际问题\\的步骤一致，能及时发现列式中的错误，保障\\问题正确解决。};
\node[pleaf,rside] (p5a3b) at (2214,5069) {第36页第10题要求学生用不同的方法解答应\\找回多少元这个问题。这道题让学生在现实的\\问题情境中，再次体会减法的性质。};
\node[pleaf,rside] (p5a3c) at (2214,5152) {本单元教学列综合算式解答两步计算的实际问\\题，主要目的是让学生体会运算顺序。教学本\\单元后，学生解答两步计算实际问题可以列综\\合算式，也可以列分步算式，不要作统一规定\\。};
\node[pleaf,rside] (p5a3d) at (2214,5309) {另外，教材里还有部分实际问题要求学生用不\\同的方法解答，主要目的是锻炼思维。一是培\\养学生思维的开放性。体会条件信息里的联系\\是多向的。如第38页第10题里，从5个乒乓球\\装 袋和每4袋装 盒可以知道 盒里有54=\\20(个)乒乓球;从5个乒乓球装一袋和一共有80\\0个乒乓球可以知道一共装8005=160(袋)。\\二是培养学生思维的连贯性。当求得一盒装2\\0个乒乓球后，就可以通过00020继续求一共\\装多少盒;当求得一共装160袋后，就可以通过\\1604继续求一共装多少盒。对用不同方法解\\答实际问题，在教学中要适当地控制。不要频\\繁地提出一题多解的要求，要允许部分有困难\\的学生逐步达到这个要求。};

\foreach \n in {p1,p2,p3,p4,p5} \draw[plink] (pT.east) -- ++(10,0) |- (\n.west);
\foreach \n in {p4a,p4b,p4c,p4d,p4e} \draw[plink] (p4.east) -- ++(10,0) |- (\n.west);
\foreach \n in {p4c1,p4c2,p4c3} \draw[plink] (p4c.east) -- ++(10,0) |- (\n.west);
\foreach \n in {p4d1,p4d2} \draw[plink] (p4d.east) -- ++(10,0) |- (\n.west);
\foreach \n in {p4e1,p4e2} \draw[plink] (p4e.east) -- ++(10,0) |- (\n.west);
\draw[plink] (p5.east) -- (p5a.west);
\foreach \n in {p5a1,p5a2,p5a3} \draw[plink] (p5a.east) -- ++(10,0) |- (\n.west);
\foreach \n in {p5a1a,p5a1b} \draw[plink] (p5a1.east) -- ++(10,0) |- (\n.west);
\draw[plink] (p5a2.east) -- (p5a2a.west);
\foreach \n in {p5a3a,p5a3b,p5a3c,p5a3d} \draw[plink] (p5a3.east) -- ++(10,0) |- (\n.west);

% ---------- right related
\node[head,fill=ghd,rside] (gT) at (1429,5657) {一年级数学下册做个百数表教案相\\关文章：};
\node[gleaf,rside] (g1) at (1660,5434) {★ 人教版一年级数学下册表格教案2021模板};
\node[gleaf,rside] (g2) at (1660,5483) {★ 小学数学一年级下册数的顺序2021最新优\\秀教案};
\node[gleaf,rside] (g3) at (1660,5535) {★ 人教版一年级数学下册教案最新模板};
\node[gleaf,rside] (g4) at (1660,5579) {★ 人教版一年级数学下册教案设计最新例文};
\node[gleaf,rside] (g5) at (1660,5625) {★ 2021最新数学一年级下册全册教案};
\node[gleaf,rside] (g6) at (1660,5675) {★ 人教版一年级数学下册教案及反思最新例\\文};
\node[gleaf,rside] (g7) at (1660,5727) {★ 北师版一年级数学下册教案最新模板};
\node[gleaf,rside] (g8) at (1660,5771) {★ 2021最新一年级一年级下册数学教案};
\node[gleaf,rside] (g9) at (1660,5820) {★ 一年级数学上册做个加法表二教案模板最\\新};
\node[gleaf,rside] (g10) at (1660,5878) {★ 新人教版小学数学一年级下册最新模板教\\案};
\foreach \n in {g1,g2,g3,g4,g5,g6,g7,g8,g9,g10} \draw[glink] (gT.east) -- ++(10,0) |- (\n.west);

% trunks
\draw[trunk,draw=oline] (C.west) -- ++(-15,0) |- (oT.east);
\draw[trunk,draw=tline] (C.west) -- ++(-15,0) |- (tT.east);
\draw[trunk,draw=bline] (C.west) -- ++(-15,0) |- (bT.east);
\draw[trunk,draw=oline] (C.east) -- ++(9,0) |- (top.west);
\draw[trunk,draw=yline] (C.east) -- ++(9,0) |- (yT.west);
\draw[trunk,draw=pline] (C.east) -- ++(9,0) |- (pT.west);
\draw[trunk,draw=gline] (C.east) -- ++(9,0) |- (gT.west);
\end{tikzpicture}
\end{document}
